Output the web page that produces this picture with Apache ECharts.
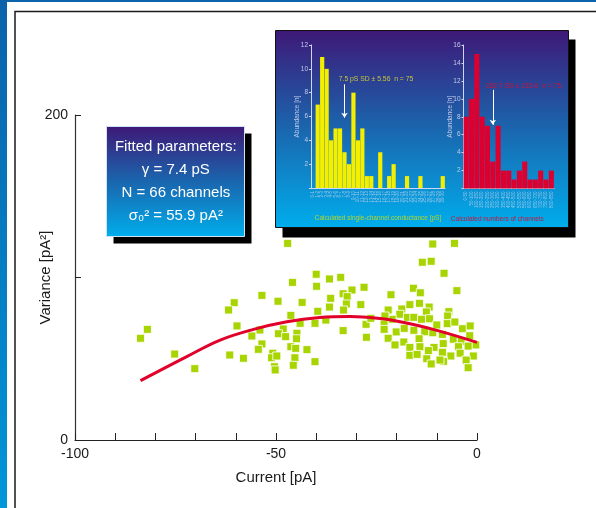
<!DOCTYPE html>
<html>
<head>
<meta charset="utf-8">
<style>
  html, body { margin: 0; padding: 0; background: #fff; }
  #chart { width: 596px; height: 508px; }
</style>
<script src="https://cdn.jsdelivr.net/npm/echarts@6/dist/echarts.min.js"></script>
</head>
<body>
<div id="chart"></div>
<script>
// --- data ---
var variancePoints = [
  [-82.0,68.1],[-83.7,62.6],[-75.2,52.9],[-70.2,43.9],[-47.1,121.0],[-40.0,102.0],[-45.9,97.0],[-39.9,94.6],
  [-53.5,89.0],[-60.4,84.5],[-49.5,85.4],[-43.5,84.7],[-61.8,80.0],[-46.3,76.7],[-39.6,79.2],[-59.7,70.2],
  [-40.3,71.8],[-54.0,67.7],[-48.2,68.3],[-49.4,65.4],[-44.8,65.7],[-56.0,64.0],[-47.6,63.6],[-44.9,62.3],
  [-53.5,59.1],[-46.3,57.4],[-45.1,56.4],[-54.4,55.8],[-42.3,55.6],[-61.5,52.3],[-50.8,53.4],[-51.1,50.6],
  [-49.8,51.7],[-58.1,50.3],[-45.3,50.6],[-40.3,48.2],[-50.4,45.1],[-45.7,46.0],[-50.2,43.1],[-44.0,71.8],
  [-11.0,120.6],[-5.6,121.0],[-13.6,109.4],[-11.4,110.0],[-8.2,102.6],[-36.7,99.1],[-33.9,100.1],[-31.1,92.3],
  [-28.1,94.0],[-33.3,90.0],[-32.3,88.2],[-36.4,87.2],[-15.8,93.4],[-14.1,90.6],[-5.0,91.9],[-21.4,89.4],
  [-32.5,83.7],[-28.9,83.3],[-36.7,81.8],[-33.2,80.0],[-22.1,80.0],[-18.7,80.6],[-16.7,83.3],[-14.3,84.1],
  [-11.9,81.8],[-12.6,78.8],[-7.0,79.0],[-19.2,77.4],[-17.3,75.5],[-15.7,75.5],[-13.8,74.3],[-11.8,74.6],
  [-7.3,76.3],[-37.6,73.8],[-27.6,71.2],[-26.4,74.9],[-23.1,72.2],[-21.1,74.3],[-7.4,71.6],[-3.6,68.5],
  [-1.7,70.2],[-33.3,67.3],[-23.1,68.1],[-20.1,66.5],[-18.1,68.7],[-15.7,67.5],[-13.0,66.6],[-11.0,66.0],
  [-8.6,65.0],[-5.9,62.0],[-1.8,64.2],[-27.5,63.2],[-22.1,62.6],[-18.2,60.3],[-14.4,62.3],[-8.4,59.3],
  [-3.9,60.7],[-0.3,58.5],[-16.7,57.0],[-14.2,57.4],[-10.7,57.0],[-4.6,57.4],[-2.2,57.8],[-12.1,55.0],
  [-8.6,54.0],[-4.2,53.4],[-16.7,52.1],[-14.9,52.7],[-6.5,51.7],[-0.9,51.7],[-12.5,50.0],[-8.3,48.4],
  [-2.7,49.2],[-11.4,46.8],[-2.2,44.5],[-10.0,70.8],[-20.4,58.5],[-5.5,72.6],[-22.9,76.3],[-9.2,49.2]
];

var fitPoints = [
  [-83.7,36.5],[-72.2,51.3],[-63.9,61.5],[-55.6,68.1],[-47.3,72.8],[-39.1,75.4],
  [-31.5,76.0],[-23.5,74.6],[-19.2,72.8],[-10.9,68.1],[0,60.1]
];

var xLabelsShown = [-100, -50, 0];
var yLabelsShown = [0, 200];

var fittedLines = ['Fitted parameters:', '\u03b3 = 7.4 pS', 'N = 66 channels', '\u03c3\u2080\u00b2 = 55.9 pA\u00b2'];

var conductanceBins = [
  '0-1','1-2','2-3','3-4','4-5','5-6','6-7','7-8','8-9','9-10',
  '10-11','11-12','12-13','13-14','14-15','15-16','16-17','17-18','18-19','19-20',
  '20-21','21-22','22-23','23-24','24-25','25-26','26-27','27-28','28-29','29-30'
];
var conductanceCounts = [0,7,11,10,4,5,5,3,2,8,4,5,1,1,0,3,0,1,2,0,0,1,0,0,1,0,0,0,0,1];
var conductanceNote = '7.5 pS SD \u00b1 5.56  n = 75';
var conductanceArrow = { bin: '7-8', from: 8.7, to: 5.9 };

var channelBins = [
  '0-50','50-100','100-150','150-200','200-250','250-300','300-350','350-400','400-450',
  '450-500','500-550','550-600','600-650','650-700','700-750','750-800','800-850'
];
var channelCounts = [8,10,15,8,7,3,7,2,2,1,2,3,1,1,2,1,2];
var channelNote = '262.7 SD \u00b1 215.6  n = 75';
var channelArrow = { bin: '250-300', from: 11.0, to: 7.1 };

// --- chart ---
var font = 'Liberation Sans, Arial, sans-serif';
var ink = '#1a1a1a';
var histInk = '#c4cbec';
var chart = echarts.init(document.getElementById('chart'), null, { renderer: 'canvas' });

function panelGradient() {
  return new echarts.graphic.LinearGradient(0, 0, 0, 1, [
    { offset: 0, color: '#3e1877' },
    { offset: 0.5, color: '#1a66ae' },
    { offset: 1, color: '#00aeec' }
  ]);
}

function histYAxis(idx, max) {
  return {
    type: 'value', gridIndex: idx, min: 0, max: max, interval: 2, z: 10,
    name: 'Abundance [n]', nameLocation: 'middle', nameGap: 10, nameMoveOverlap: false,
    nameTextStyle: { color: histInk, fontSize: 6.5, fontFamily: font },
    axisLine: { show: true, onZero: false, lineStyle: { color: '#d0d6f2', width: 1 } },
    axisTick: { show: true, length: 2, lineStyle: { color: '#d0d6f2' } },
    axisLabel: {
      color: histInk, fontSize: 6.5, fontFamily: font, margin: 3,
      formatter: function(v) { return v === 0 ? '' : v; }
    },
    splitLine: { show: false }
  };
}

function histXAxis(idx, bins, name, color, pad) {
  return {
    type: 'category', gridIndex: idx, data: bins, z: 10,
    name: name, nameLocation: 'middle', nameGap: 27, nameMoveOverlap: false,
    nameTextStyle: { color: color, fontSize: 6.5, fontFamily: font, padding: pad },
    axisLine: { show: true, lineStyle: { color: '#d0d6f2', width: 1 } },
    axisTick: { show: false },
    axisLabel: { color: '#9cc6ea', fontSize: 4.5, fontFamily: font, rotate: 90, interval: 0, margin: 3 },
    splitLine: { show: false }
  };
}

function arrowLine(a) {
  return {
    silent: true, animation: false, symbol: ['none', 'arrow'], symbolSize: 5,
    lineStyle: { color: '#ffffff', width: 1, type: 'solid' },
    label: { show: false },
    data: [[{ coord: [a.bin, a.from] }, { coord: [a.bin, a.to] }]]
  };
}

var graphics = [
  // page decoration
  { type: 'rect', z: 0, shape: { x: 0, y: 0, width: 596, height: 2 }, style: { fill: '#0b64ac' } },
  { type: 'rect', z: 0, shape: { x: 0, y: 0, width: 7, height: 508 },
    style: { fill: new echarts.graphic.LinearGradient(0, 0, 0, 1, [
      { offset: 0, color: '#0b62aa' }, { offset: 1, color: '#0096d8' }]) } },
  { type: 'rect', z: 0, shape: { x: 15, y: 11.5, width: 700, height: 600 },
    style: { fill: null, stroke: '#1a1a1a', lineWidth: 1.5 } },
  // fitted parameters box
  { type: 'rect', z: 4, shape: { x: 113.5, y: 133.5, width: 138, height: 110 }, style: { fill: '#000' } },
  { type: 'rect', z: 5, shape: { x: 106.5, y: 126.5, width: 138, height: 110 },
    style: { fill: panelGradient(), stroke: '#cfe3f5', lineWidth: 1 } },
  // histogram panel
  { type: 'rect', z: 4, shape: { x: 282.5, y: 39.5, width: 293, height: 198 }, style: { fill: '#000' } },
  { type: 'rect', z: 5, shape: { x: 275.5, y: 30.5, width: 293, height: 197 },
    style: { fill: panelGradient(), stroke: '#111', lineWidth: 1 } },
  { type: 'text', z: 12, x: 376, y: 79.5,
    style: { text: conductanceNote, fill: '#c8c43c', font: '6.8px ' + font, align: 'center', verticalAlign: 'middle' } },
  { type: 'text', z: 12, x: 523.5, y: 85.7,
    style: { text: channelNote, fill: '#c8143c', font: '6.8px ' + font, align: 'center', verticalAlign: 'middle' } }
];
var lineYs = [147, 170, 193, 215.5];
fittedLines.forEach(function(t, i) {
  graphics.push({ type: 'text', z: 6, x: 175.8, y: lineYs[i],
    style: { text: t, fill: '#ffffff', font: '15px ' + font, align: 'center', verticalAlign: 'middle' } });
});

chart.setOption({
  animation: false,
  backgroundColor: '#ffffff',
  textStyle: { fontFamily: font },
  grid: [
    { left: 75, top: 115, width: 402, height: 325 },
    { left: 311, top: 45, width: 134, height: 143 },
    { left: 463.5, top: 45, width: 90.5, height: 143.5 }
  ],
  xAxis: [
    {
      type: 'value', gridIndex: 0, min: -100, max: 0, interval: 10,
      name: 'Current [pA]', nameLocation: 'middle', nameGap: 30, nameMoveOverlap: false,
      nameTextStyle: { color: ink, fontSize: 15, fontFamily: font },
      axisLine: { show: true, onZero: false, lineStyle: { color: '#222', width: 1.2 } },
      axisTick: { show: true, inside: true, length: 7, lineStyle: { color: '#222' } },
      axisLabel: {
        color: ink, fontSize: 14, fontFamily: font, margin: 7,
        formatter: function(v) { return xLabelsShown.indexOf(v) >= 0 ? v : ''; }
      },
      splitLine: { show: false }
    },
    histXAxis(1, conductanceBins, 'Calculated single-channel conductance [pS]', '#b8d42a', [0, 0, 0, 0]),
    histXAxis(2, channelBins, 'Calculated numbers of channels', '#c8143c', [0, 23, 0, 0])
  ],
  yAxis: [
    {
      type: 'value', gridIndex: 0, min: 0, max: 200, interval: 100,
      name: 'Variance [pA\u00b2]', nameLocation: 'middle', nameGap: 22, nameMoveOverlap: false,
      nameTextStyle: { color: ink, fontSize: 15, fontFamily: font },
      axisLine: { show: true, onZero: false, lineStyle: { color: '#333', width: 1.2 } },
      axisTick: { show: true, inside: true, length: 6, lineStyle: { color: '#222' } },
      axisLabel: {
        color: ink, fontSize: 14, fontFamily: font, margin: 7,
        formatter: function(v) { return yLabelsShown.indexOf(v) >= 0 ? v : ''; }
      },
      splitLine: { show: false }
    },
    histYAxis(1, 12),
    histYAxis(2, 16)
  ],
  series: [
    {
      type: 'scatter', xAxisIndex: 0, yAxisIndex: 0, z: 2,
      symbol: 'rect', symbolSize: 8,
      itemStyle: { color: '#a8d400', borderColor: 'rgba(255,255,255,0.85)', borderWidth: 1, opacity: 1 },
      data: variancePoints
    },
    {
      type: 'line', xAxisIndex: 0, yAxisIndex: 0, z: 3,
      smooth: 0.4, showSymbol: false, symbol: 'none',
      lineStyle: { color: '#e0002a', width: 3 },
      data: fitPoints
    },
    {
      type: 'bar', xAxisIndex: 1, yAxisIndex: 1, z: 10,
      barCategoryGap: '6%',
      itemStyle: { color: '#f4ee00' },
      data: conductanceCounts,
      markLine: arrowLine(conductanceArrow)
    },
    {
      type: 'bar', xAxisIndex: 2, yAxisIndex: 2, z: 10,
      barCategoryGap: '4%',
      itemStyle: { color: '#dc0030' },
      data: channelCounts,
      markLine: arrowLine(channelArrow)
    }
  ],
  graphic: graphics
});
</script>
</body>
</html>
